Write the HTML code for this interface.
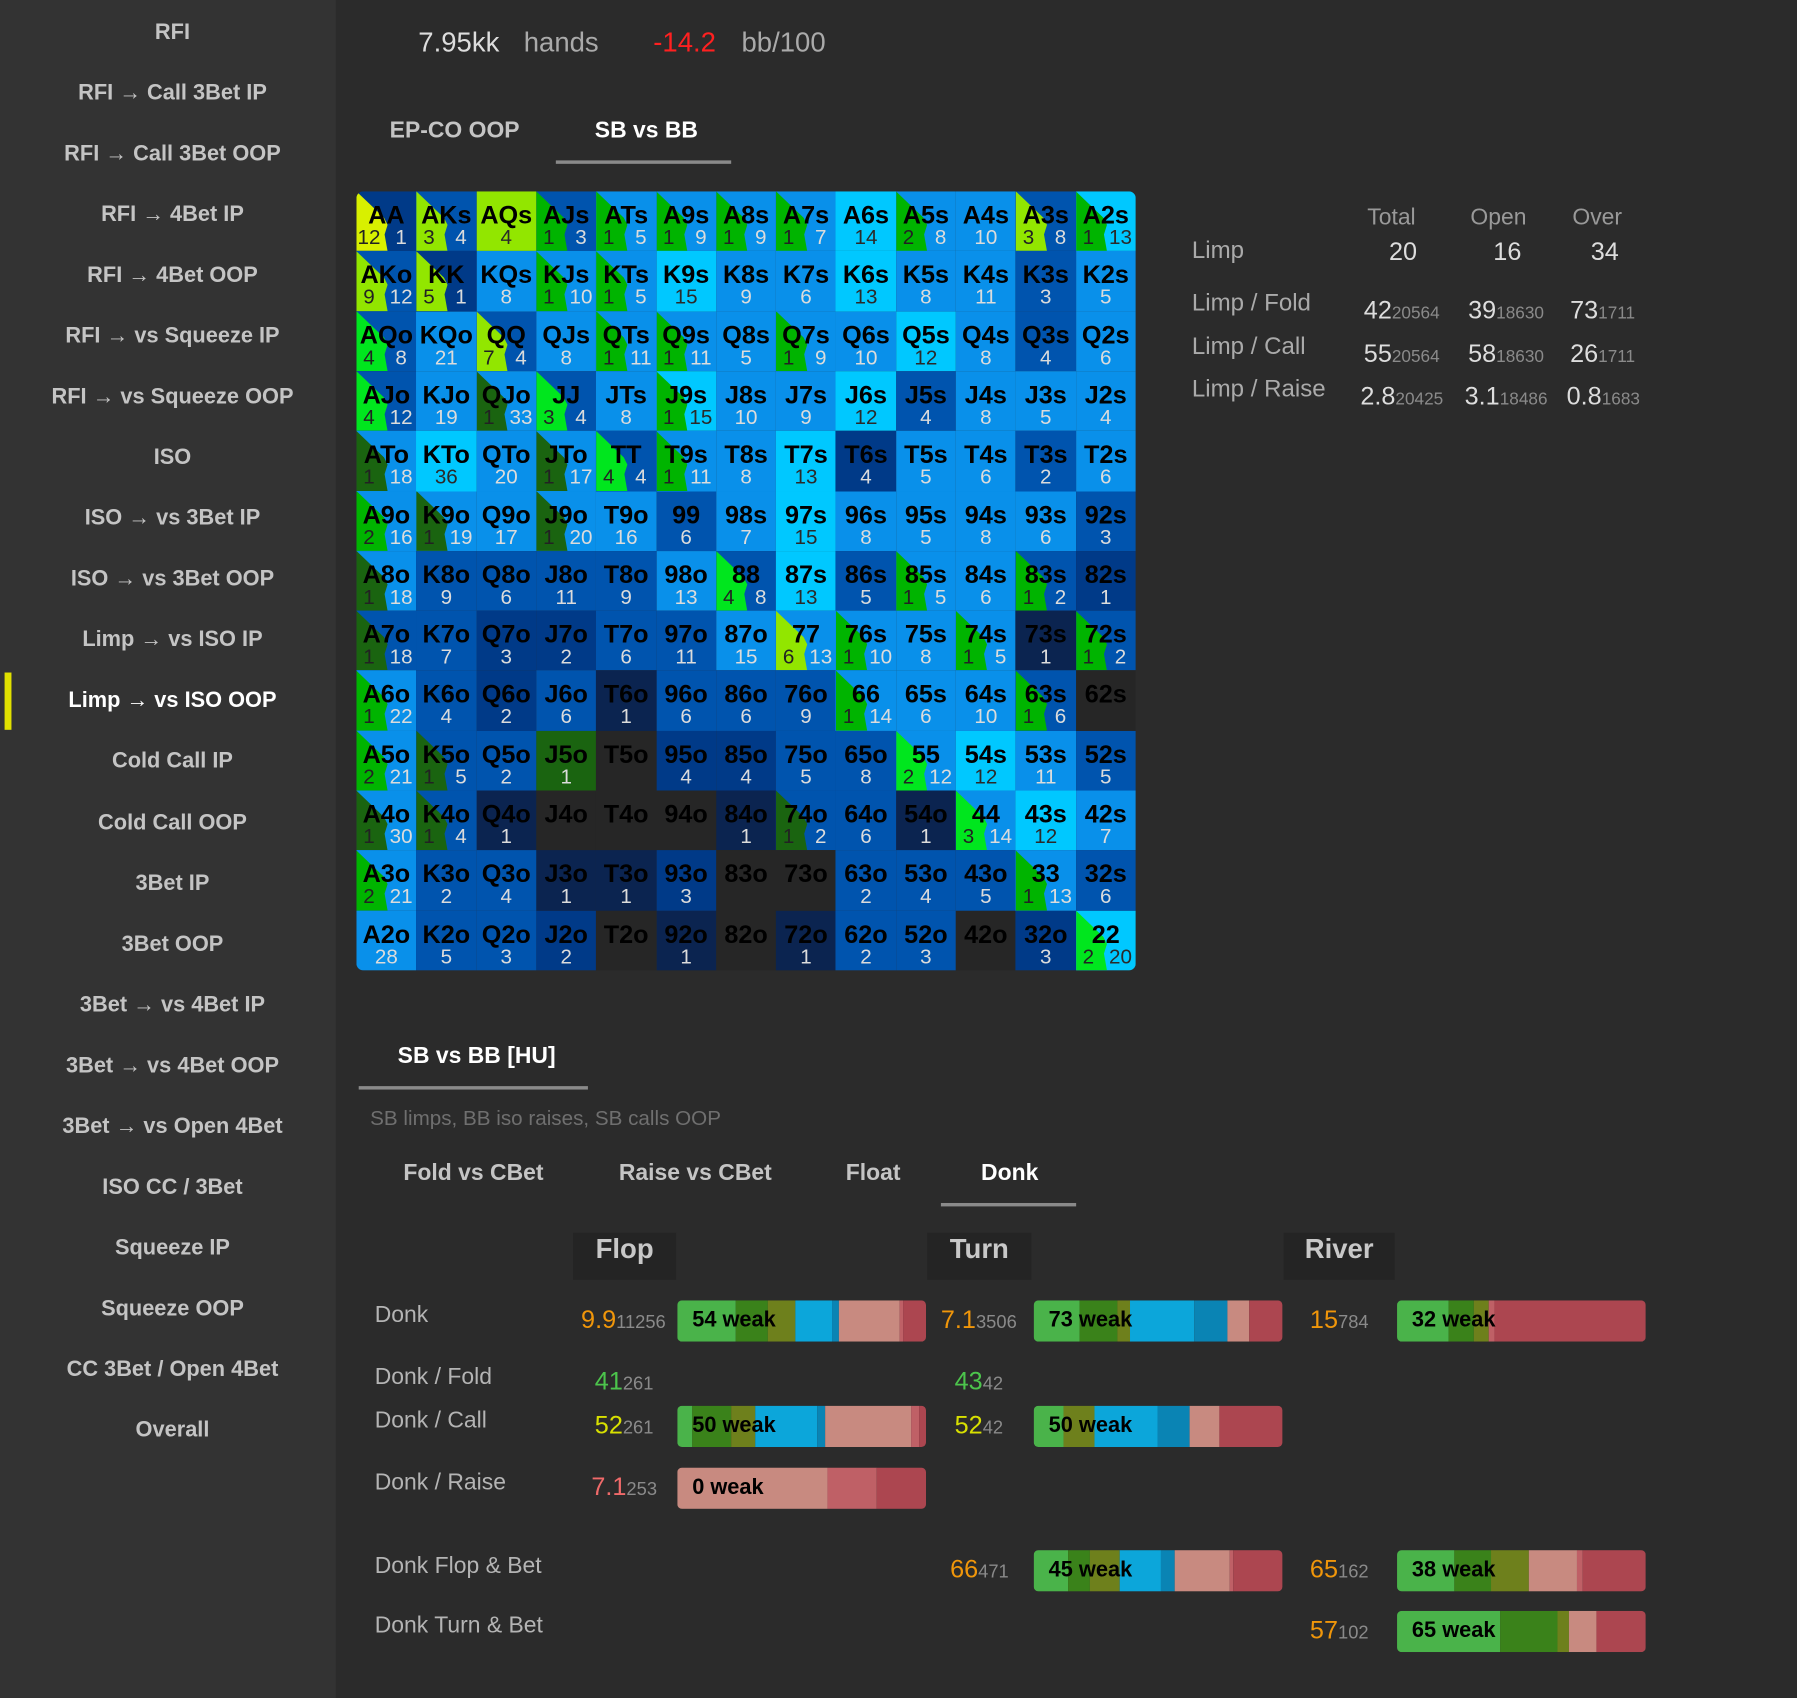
<!DOCTYPE html>
<html><head><meta charset="utf-8">
<style>
html,body{margin:0;padding:0;background:#2b2b2b;width:1797px;height:1698px;overflow:hidden;font-family:"Liberation Sans",sans-serif;}
#w{position:absolute;left:0;top:0;width:1568px;height:1482px;transform:scale(1.14605,1.1457);transform-origin:0 0;background:#2b2b2b;}
.abs{position:absolute;white-space:nowrap;}
#side{position:absolute;left:0;top:0;width:293px;height:1482px;background:#333;}
.si{position:absolute;left:4px;width:293px;text-align:center;font-weight:bold;font-size:19px;color:#c4c4c4;}
#grid{position:absolute;left:311px;top:167px;width:680px;height:680px;border-radius:6px;overflow:hidden;}
.c{position:absolute;width:52.31px;height:52.31px;overflow:hidden;}
.w{position:absolute;left:0;top:0;width:100%;height:100%;clip-path:polygon(0 0,46% 44%,52% 56%,47% 72%,52% 100%,0 100%);}
.lb{position:absolute;left:-4px;right:-4px;top:9px;text-align:center;font-weight:bold;font-size:22px;color:#000;line-height:24px;}
.n{position:absolute;top:30px;font-size:18px;line-height:20px;}
.bar{position:absolute;width:217px;height:36px;border-radius:4px;overflow:hidden;display:flex;}
.bar span{display:block;height:100%;}
.bt{position:absolute;left:13px;top:7px;font-size:19px;font-weight:bold;color:#000;}
.rl{position:absolute;left:327px;font-size:20px;color:#b4b4b4;}
.big{font-size:22px;}
.sm{font-size:15px;color:#8a8a8a;}
.hd{position:absolute;height:41px;background:#242424;font-weight:bold;font-size:24px;color:#c8c8c8;line-height:30px;text-align:center;}
</style></head><body><div id="w">
<div id="side"></div>
<div class="abs" style="left:4px;top:587px;width:6px;height:50px;background:#e0e000"></div>

<div class="abs" style="left:365px;top:24px;font-size:24px;color:#ddd">7.95kk</div>
<div class="abs" style="left:457px;top:24px;font-size:24px;color:#aaa">hands</div>
<div class="abs" style="left:570px;top:24px;font-size:24px;color:#ff2020">-14.2</div>
<div class="abs" style="left:647px;top:24px;font-size:24px;color:#aaa">bb/100</div>

<div class="abs" style="left:340px;top:103px;font-size:20px;font-weight:bold;color:#c4c4c4">EP-CO OOP</div>
<div class="abs" style="left:519px;top:103px;font-size:20px;font-weight:bold;color:#fff">SB vs BB</div>
<div class="abs" style="left:485px;top:140px;width:153px;height:3px;background:#8a8a8a"></div>

<div id="grid"></div>

<div class="abs" style="left:1040px;top:207px;font-size:21px;color:#aaa">Limp</div>
<div class="abs" style="left:1193px;top:179px;font-size:20px;color:#999">Total</div>
<div class="abs" style="left:1283px;top:179px;font-size:20px;color:#999">Open</div>
<div class="abs" style="left:1372px;top:179px;font-size:20px;color:#999">Over</div>
<div class="abs" style="left:1212px;top:207px;font-size:22px;color:#ddd">20</div>
<div class="abs" style="left:1303px;top:207px;font-size:22px;color:#ddd">16</div>
<div class="abs" style="left:1388px;top:207px;font-size:22px;color:#ddd">34</div>
<div class="abs" style="left:1040px;top:253px;font-size:21px;color:#aaa">Limp / Fold</div>
<div class="abs" style="left:1040px;top:291px;font-size:21px;color:#aaa">Limp / Call</div>
<div class="abs" style="left:1040px;top:328px;font-size:21px;color:#aaa">Limp / Raise</div>
<div class="abs" style="left:1190px;top:258px;color:#ddd"><span class="big">42</span><span class="sm">20564</span></div>
<div class="abs" style="left:1281px;top:258px;color:#ddd"><span class="big">39</span><span class="sm">18630</span></div>
<div class="abs" style="left:1370px;top:258px;color:#ddd"><span class="big">73</span><span class="sm">1711</span></div>
<div class="abs" style="left:1190px;top:296px;color:#ddd"><span class="big">55</span><span class="sm">20564</span></div>
<div class="abs" style="left:1281px;top:296px;color:#ddd"><span class="big">58</span><span class="sm">18630</span></div>
<div class="abs" style="left:1370px;top:296px;color:#ddd"><span class="big">26</span><span class="sm">1711</span></div>
<div class="abs" style="left:1187px;top:333px;color:#ddd"><span class="big">2.8</span><span class="sm">20425</span></div>
<div class="abs" style="left:1278px;top:333px;color:#ddd"><span class="big">3.1</span><span class="sm">18486</span></div>
<div class="abs" style="left:1367px;top:333px;color:#ddd"><span class="big">0.8</span><span class="sm">1683</span></div>

<div class="abs" style="left:347px;top:911px;font-size:20px;font-weight:bold;color:#fff">SB vs BB [HU]</div>
<div class="abs" style="left:313px;top:948px;width:200px;height:3px;background:#8a8a8a"></div>
<div class="abs" style="left:323px;top:966px;font-size:18px;color:#6f6f6f">SB limps, BB iso raises, SB calls OOP</div>
<div class="abs" style="left:352px;top:1013px;font-size:20px;font-weight:bold;color:#c4c4c4">Fold vs CBet</div>
<div class="abs" style="left:540px;top:1013px;font-size:20px;font-weight:bold;color:#c4c4c4">Raise vs CBet</div>
<div class="abs" style="left:738px;top:1013px;font-size:20px;font-weight:bold;color:#c4c4c4">Float</div>
<div class="abs" style="left:856px;top:1013px;font-size:20px;font-weight:bold;color:#fff">Donk</div>
<div class="abs" style="left:821px;top:1050px;width:118px;height:3px;background:#8a8a8a"></div>

<div class="hd" style="left:500px;top:1076px;width:90px">Flop</div>
<div class="hd" style="left:809px;top:1076px;width:91px">Turn</div>
<div class="hd" style="left:1120px;top:1076px;width:97px">River</div>

<div class="rl" style="top:1137px">Donk</div>
<div class="rl" style="top:1191px">Donk / Fold</div>
<div class="rl" style="top:1229px">Donk / Call</div>
<div class="rl" style="top:1283px">Donk / Raise</div>
<div class="rl" style="top:1356px">Donk Flop &amp; Bet</div>
<div class="rl" style="top:1408px">Donk Turn &amp; Bet</div>

<div id="nums"></div>
<div id="bars"></div>
</div>
<script>
var side=["RFI","RFI → Call 3Bet IP","RFI → Call 3Bet OOP","RFI → 4Bet IP","RFI → 4Bet OOP","RFI → vs Squeeze IP","RFI → vs Squeeze OOP","ISO","ISO → vs 3Bet IP","ISO → vs 3Bet OOP","Limp → vs ISO IP","Limp → vs ISO OOP","Cold Call IP","Cold Call OOP","3Bet IP","3Bet OOP","3Bet → vs 4Bet IP","3Bet → vs 4Bet OOP","3Bet → vs Open 4Bet","ISO CC / 3Bet","Squeeze IP","Squeeze OOP","CC 3Bet / Open 4Bet","Overall"];
var s="";side.forEach(function(t,i){s+='<div class="si" style="top:'+(18+i*53.04)+'px;'+(i==11?'color:#fff':'')+'">'+t+'</div>';});
document.getElementById('side').innerHTML=s;
var col={K:"#262626",N:"#0b2450",M:"#003a88",S:"#0054ae",B:"#0990ea",C:"#00c8ff",L:"#92e600",D:"#1a6410",Y:"#d8f000",G:"#00b400",E:"#00e61e"};
var rows=[
"AA:M:Y:12:1 AKs:S:L:3:4 AQs:L::4 AJs:S:G:1:3 ATs:B:G:1:5 A9s:B:G:1:9 A8s:B:G:1:9 A7s:B:G:1:7 A6s:C::14 A5s:B:G:2:8 A4s:B::10 A3s:S:L:3:8 A2s:C:G:1:13",
"AKo:S:L:9:12 KK:M:L:5:1 KQs:B::8 KJs:B:G:1:10 KTs:B:G:1:5 K9s:C::15 K8s:B::9 K7s:B::6 K6s:C::13 K5s:B::8 K4s:B::11 K3s:S::3 K2s:B::5",
"AQo:S:E:4:8 KQo:B::21 QQ:S:L:7:4 QJs:B::8 QTs:B:G:1:11 Q9s:B:G:1:11 Q8s:B::5 Q7s:B:G:1:9 Q6s:B::10 Q5s:C::12 Q4s:B::8 Q3s:S::4 Q2s:B::6",
"AJo:S:E:4:12 KJo:B::19 QJo:B:D:1:33 JJ:S:E:3:4 JTs:B::8 J9s:C:G:1:15 J8s:B::10 J7s:B::9 J6s:C::12 J5s:S::4 J4s:B::8 J3s:B::5 J2s:B::4",
"ATo:B:D:1:18 KTo:C::36 QTo:B::20 JTo:B:D:1:17 TT:S:E:4:4 T9s:B:G:1:11 T8s:B::8 T7s:C::13 T6s:M::4 T5s:B::5 T4s:B::6 T3s:S::2 T2s:B::6",
"A9o:B:G:2:16 K9o:B:D:1:19 Q9o:B::17 J9o:B:D:1:20 T9o:B::16 99:S::6 98s:B::7 97s:C::15 96s:B::8 95s:B::5 94s:B::8 93s:B::6 92s:S::3",
"A8o:B:D:1:18 K8o:S::9 Q8o:S::6 J8o:S::11 T8o:S::9 98o:B::13 88:S:E:4:8 87s:C::13 86s:S::5 85s:B:G:1:5 84s:B::6 83s:S:G:1:2 82s:M::1",
"A7o:S:D:1:18 K7o:S::7 Q7o:M::3 J7o:M::2 T7o:S::6 97o:S::11 87o:B::15 77:B:L:6:13 76s:B:G:1:10 75s:B::8 74s:B:G:1:5 73s:N::1 72s:S:G:1:2",
"A6o:B:G:1:22 K6o:S::4 Q6o:M::2 J6o:S::6 T6o:N::1 96o:S::6 86o:S::6 76o:S::9 66:B:G:1:14 65s:B::6 64s:B::10 63s:S:G:1:6 62s:K::",
"A5o:B:G:2:21 K5o:S:D:1:5 Q5o:S::2 J5o:D::1 T5o:K:: 95o:M::4 85o:M::4 75o:S::5 65o:S::8 55:B:E:2:12 54s:C::12 53s:B::11 52s:S::5",
"A4o:B:D:1:30 K4o:S:D:1:4 Q4o:N::1 J4o:K:: T4o:K:: 94o:K:: 84o:N::1 74o:S:D:1:2 64o:S::6 54o:N::1 44:B:E:3:14 43s:C::12 42s:B::7",
"A3o:B:G:2:21 K3o:S::2 Q3o:S::4 J3o:N::1 T3o:N::1 93o:M::3 83o:K:: 73o:K:: 63o:S::2 53o:S::4 43o:S::5 33:B:G:1:13 32s:S::6",
"A2o:B::28 K2o:S::5 Q2o:S::3 J2o:M::2 T2o:K:: 92o:N::1 82o:K:: 72o:N::1 62o:S::2 52o:S::3 42o:K:: 32o:M::3 22:C:E:2:20"];
var g="",cs=680/13;
rows.forEach(function(r,i){r.split(" ").forEach(function(c,j){var p=c.split(":");var bg=col[p[1]];
var light=(p[1]=="C"||p[1]=="L")?"#2a2a2a":"#dcdcdc";
var h='<div class="c" style="left:'+(j*cs)+'px;top:'+(i*cs)+'px;background:'+bg+'">';
if(p[2]){h+='<div class="w" style="background:'+col[p[2]]+'"></div>';
h+='<div class="n" style="left:0;width:22px;text-align:center;color:#222">'+p[3]+'</div>';
h+='<div class="n" style="left:26px;width:26px;text-align:center;color:'+light+'">'+p[4]+'</div>';}
else if(p[3]){h+='<div class="n" style="left:0;width:100%;text-align:center;color:'+light+'">'+p[3]+'</div>';}
h+='<div class="lb">'+p[0]+'</div></div>';g+=h;});});
document.getElementById('grid').innerHTML=g;
var bc={g:"#4ab34a",d:"#3a821a",o:"#6e801c",b:"#0ca6da",x:"#0a84b4",s:"#c88a80",m:"#bf6066",r:"#ac4650"};
var bars=[
[591,1135,"54 weak","g23.5 d12.7 o11.3 b14.9 x2.8 s24 m1.7 r9.1"],
[902,1135,"73 weak","g18.3 d15.2 o5 b25.8 x13.6 s8.9 r13.2"],
[1219,1135,"32 weak","g20.8 d10 o6.1 m2.5 r60.6"],
[591,1227,"50 weak","g5.8 d16 o9.7 b24.9 x3 s34.5 m3.3 r2.8"],
[902,1227,"50 weak","g11.9 o12.5 b25.2 x13 s11.9 r25.5"],
[591,1281,"0 weak","s60.2 m20.2 r19.6"],
[902,1353,"45 weak","g13.6 d8.9 o11.9 b16.9 x5.5 s21.9 m1.7 r19.6"],
[1219,1353,"38 weak","g23 d14.7 o15.2 s19.4 m2.2 r25.5"],
[1219,1406,"65 weak","g41.6 d23 o4.4 s11.4 r19.6"]];
var b="";bars.forEach(function(a){b+='<div class="bar" style="left:'+a[0]+'px;top:'+a[1]+'px">';
a[3].split(" ").forEach(function(q){b+='<span style="width:'+q.slice(1)+'%;background:'+bc[q[0]]+'"></span>';});
b+='<div class="bt">'+a[2]+'</div></div>';});
document.getElementById('bars').innerHTML=b;
var nums=[[507,1139,"9.9","11256","#f0960a"],[821,1139,"7.1","3506","#f0960a"],[1143,1139,"15","784","#f0960a"],
[519,1193,"41","261","#4cc44c"],[833,1193,"43","42","#4cc44c"],
[519,1231,"52","261","#d8e000"],[833,1231,"52","42","#d8e000"],
[516,1285,"7.1","253","#f06a6a"],[829,1357,"66","471","#f0960a"],[1143,1357,"65","162","#f0960a"],[1143,1410,"57","102","#f0960a"]];
var n="";nums.forEach(function(a){n+='<div class="abs" style="left:'+a[0]+'px;top:'+a[1]+'px"><span style="font-size:22px;color:'+a[4]+'">'+a[2]+'</span><span class="sm" style="font-size:16px">'+a[3]+'</span></div>';});
document.getElementById('nums').innerHTML=n;
</script>
</body></html>
